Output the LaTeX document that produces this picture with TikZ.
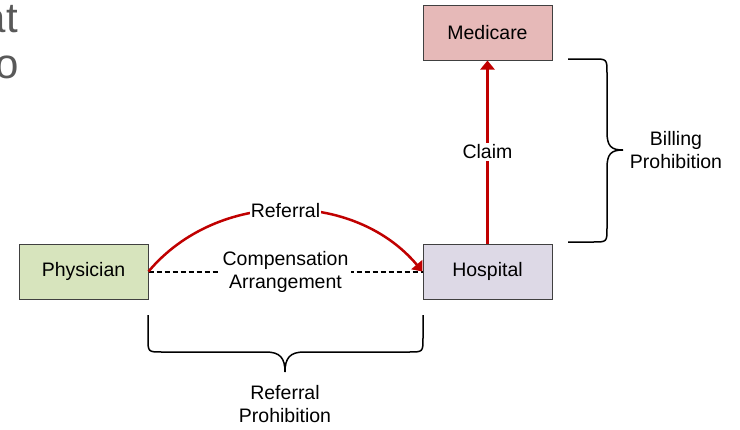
\documentclass[tikz,border=0pt]{standalone}
\usepackage{fontspec}
\setmainfont{Liberation Sans}
\usetikzlibrary{arrows.meta,positioning}
\definecolor{medfill}{HTML}{E6B9B8}
\definecolor{physfill}{HTML}{D7E4BD}
\definecolor{hospfill}{HTML}{DDD9E6}
\definecolor{arrowred}{HTML}{C00000}
\definecolor{slidegray}{HTML}{595959}
\definecolor{edgegray}{HTML}{404040}

\begin{document}
\begin{tikzpicture}[x=1pt,y=-1pt]
\tikzstyle{every node}+=[inner sep=0pt, font=\fontsize{19.5}{23}\selectfont]
\tikzstyle{party}=[draw=edgegray, line width=1pt, minimum width=129pt, minimum height=55pt]
\tikzstyle{flow}=[draw=arrowred, line width=2.5pt, -{Triangle[length=9pt,width=14pt]}]
\tikzstyle{deal}=[draw=black, line width=2pt, dash pattern=on 5pt off 3pt]
\tikzstyle{tag}=[fill=white, inner sep=3pt, align=center]
\tikzstyle{brace line}=[draw=black, line width=1.5pt]
\useasboundingbox (0,0) rectangle (740,429);
% cut-off slide text
\node[anchor=base east, text=slidegray, font=\fontsize{42}{46}\selectfont] (slidea) at (18,32) {at};
\node[anchor=base east, text=slidegray, font=\fontsize{42}{46}\selectfont] (slideb) at (19,78) {o};
% parties
\node[party, fill=medfill] (medicare) at (487.5,32.5) {Medicare};
\node[party, fill=hospfill, below=183pt of medicare] (hospital) {Hospital};
\node[party, fill=physfill, left=274pt of hospital] (physician) {Physician};
% links
\draw[deal] (physician.east) -- node[tag] (comp) {Compensation\\Arrangement} (hospital.west);
\draw[flow] (physician.east) to[bend left=50] node[tag, inner sep=1pt] (referral) {Referral} (hospital.west);
\draw[flow] (hospital.north) -- node[tag, inner sep=2pt] (claim) {Claim} (medicare.south);
% braces
\draw[brace line] (568,59) -- (593,59) .. controls (607,59) .. (607,73) -- (607,132)
  .. controls (607,146) and (611,150) .. (623,150)
  .. controls (611,150) and (607,154) .. (607,168) -- (607,228)
  .. controls (607,242) .. (593,242) -- (568,242);
\node[align=center] (billing) at (676,150) {Billing\\Prohibition};
\draw[brace line] (148,315) -- (148,338) .. controls (148,352) .. (162,352) -- (266,352)
  .. controls (280,352) and (285,358) .. (285,372)
  .. controls (285,358) and (290,352) .. (304,352) -- (409,352)
  .. controls (423,352) .. (423,338) -- (423,315);
\node[align=center] (refban) at (285,404) {Referral\\Prohibition};
\end{tikzpicture}
\end{document}
